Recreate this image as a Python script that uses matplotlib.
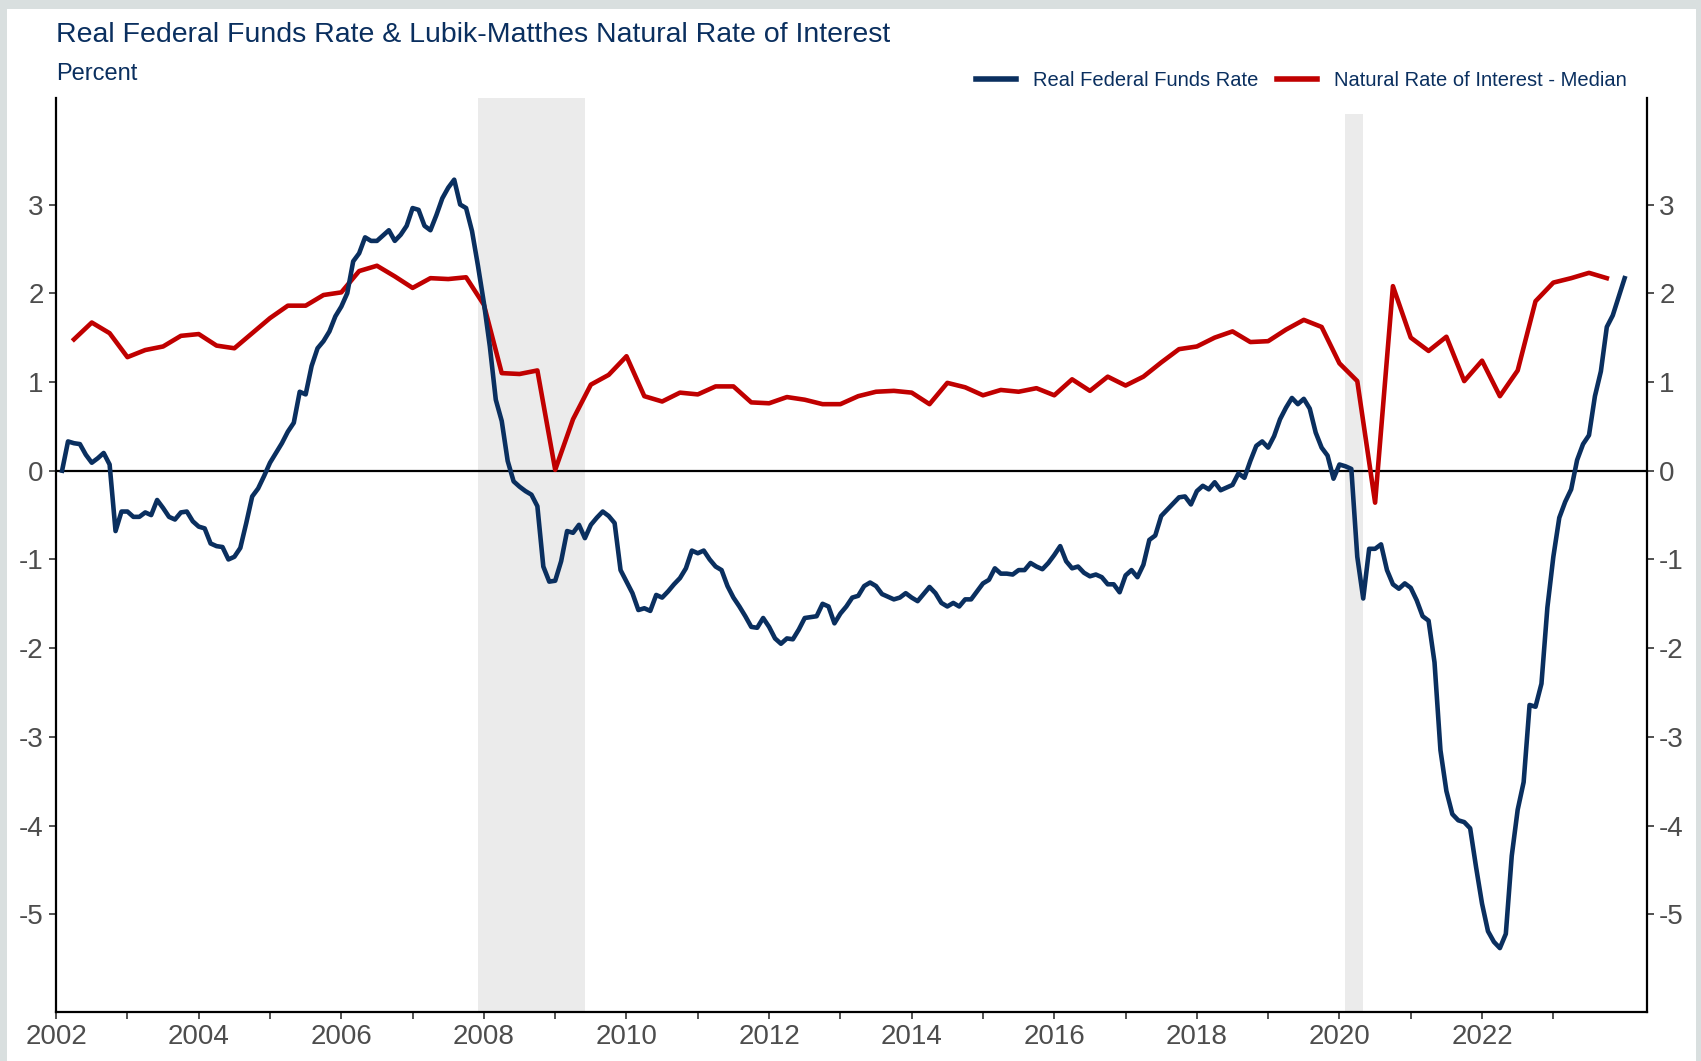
import matplotlib.pyplot as plt
from matplotlib.patches import Rectangle
import pandas as pd

plt.rcParams['font.family'] = ['Liberation Sans', 'DejaVu Sans']
plt.rcParams['axes.unicode_minus'] = False

NAVY = "#0a2f5f"
RED = "#c00000"
GREY_TXT = "#4d4d4d"

# Real federal funds rate, monthly, Feb 2002 - Jan 2024
real_ffr_dates = pd.date_range("2002-02-01", periods=264, freq="MS")
real_ffr = [
    0.00, 0.33, 0.31, 0.30, 0.18, 0.09, 0.14, 0.20, 0.07, -0.68, -0.46, -0.46,
    -0.52, -0.52, -0.47, -0.50, -0.33, -0.42, -0.52, -0.55, -0.47, -0.46, -0.57, -0.63,
    -0.65, -0.82, -0.85, -0.86, -1.00, -0.97, -0.87, -0.59, -0.29, -0.20, -0.06, 0.09,
    0.20, 0.31, 0.44, 0.54, 0.89, 0.86, 1.18, 1.38, 1.46, 1.57, 1.74, 1.85,
    2.00, 2.36, 2.45, 2.63, 2.59, 2.59, 2.65, 2.71, 2.59, 2.66, 2.76, 2.96,
    2.94, 2.76, 2.71, 2.88, 3.07, 3.19, 3.28, 3.00, 2.96, 2.70, 2.31, 1.89,
    1.40, 0.80, 0.56, 0.11, -0.12, -0.18, -0.23, -0.27, -0.40, -1.08, -1.25, -1.24,
    -1.02, -0.68, -0.70, -0.61, -0.76, -0.61, -0.53, -0.46, -0.51, -0.59, -1.12, -1.25,
    -1.38, -1.57, -1.55, -1.58, -1.40, -1.43, -1.36, -1.28, -1.21, -1.10, -0.90, -0.93,
    -0.90, -1.00, -1.08, -1.12, -1.30, -1.43, -1.53, -1.64, -1.76, -1.77, -1.66, -1.76,
    -1.89, -1.95, -1.89, -1.90, -1.79, -1.66, -1.65, -1.64, -1.50, -1.53, -1.72, -1.61,
    -1.53, -1.43, -1.41, -1.30, -1.26, -1.30, -1.39, -1.42, -1.45, -1.43, -1.38, -1.43,
    -1.47, -1.39, -1.31, -1.38, -1.49, -1.53, -1.49, -1.53, -1.45, -1.45, -1.36, -1.27,
    -1.23, -1.10, -1.16, -1.16, -1.17, -1.12, -1.12, -1.04, -1.08, -1.11, -1.04, -0.95,
    -0.85, -1.02, -1.10, -1.08, -1.15, -1.19, -1.17, -1.20, -1.28, -1.28, -1.37, -1.18,
    -1.12, -1.20, -1.06, -0.78, -0.73, -0.51, -0.44, -0.37, -0.30, -0.29, -0.38, -0.23,
    -0.17, -0.21, -0.13, -0.22, -0.19, -0.16, -0.03, -0.08, 0.11, 0.28, 0.33, 0.26,
    0.39, 0.58, 0.71, 0.82, 0.75, 0.81, 0.70, 0.43, 0.26, 0.17, -0.09, 0.07,
    0.05, 0.02, -0.97, -1.44, -0.88, -0.88, -0.83, -1.12, -1.28, -1.33, -1.27, -1.32,
    -1.46, -1.64, -1.69, -2.16, -3.15, -3.61, -3.87, -3.94, -3.96, -4.03, -4.47, -4.88,
    -5.19, -5.31, -5.38, -5.22, -4.34, -3.82, -3.51, -2.64, -2.66, -2.40, -1.54, -0.97,
    -0.53, -0.35, -0.21, 0.12, 0.30, 0.40, 0.84, 1.12, 1.62, 1.75, 1.96, 2.17,
]

# Lubik-Matthes natural rate (median), quarterly, 2002Q2 - 2023Q4
nat_rate_dates = pd.date_range("2002-04-01", periods=87, freq="QS")
nat_rate = [
    1.48, 1.67, 1.55, 1.28, 1.36, 1.40, 1.52, 1.54, 1.41, 1.38, 1.55, 1.72,
    1.86, 1.86, 1.98, 2.01, 2.25, 2.31, 2.19, 2.06, 2.17, 2.16, 2.18, 1.87,
    1.10, 1.09, 1.13, 0.01, 0.58, 0.97, 1.08, 1.29, 0.84, 0.78, 0.88, 0.86,
    0.95, 0.95, 0.77, 0.76, 0.83, 0.80, 0.75, 0.75, 0.84, 0.89, 0.90, 0.88,
    0.75, 0.99, 0.94, 0.85, 0.91, 0.89, 0.93, 0.85, 1.03, 0.90, 1.06, 0.96,
    1.06, 1.22, 1.37, 1.40, 1.50, 1.57, 1.45, 1.46, 1.59, 1.70, 1.62, 1.21,
    1.01, -0.36, 2.08, 1.50, 1.35, 1.51, 1.01, 1.24, 0.84, 1.13, 1.91, 2.12,
    2.17, 2.23, 2.17,
]

# NBER recessions (start, end, top of shading in axes fraction)
recessions = [(2007 + 11 / 12, 2009 + 5 / 12, 1.0), (2020 + 1 / 12, 2020 + 4 / 12, 0.983)]


def to_year(dates):
    return dates.year + (dates.month - 1) / 12


fig = plt.figure(figsize=(17.01, 10.61), dpi=100, facecolor="#d9dfdf")
fig.patches.append(Rectangle((7 / 1701, 0), 1689 / 1701, 1 - 9 / 1061,
                             transform=fig.transFigure, facecolor="white",
                             edgecolor="none", zorder=-10))

ax = fig.add_axes([0.0330, 0.0462, 0.9351, 0.8614])
ax.set_facecolor("white")

for start, end, top in recessions:
    ax.axvspan(start, end, ymin=0, ymax=top, color="#ebebeb", lw=0, zorder=0)

ax.axhline(0, color="black", lw=1.6, zorder=1)

ax.plot(to_year(real_ffr_dates), real_ffr, color=NAVY, lw=3.3,
        label="Real Federal Funds Rate", zorder=3, solid_joinstyle="round")
ax.plot(to_year(nat_rate_dates), nat_rate, color=RED, lw=3.3,
        label="Natural Rate of Interest - Median", zorder=2, solid_joinstyle="round")

ax.set_xlim(2002, 2024.31)
ax.set_ylim(-6.10, 4.20)

years = list(range(2002, 2024))
ax.set_xticks(years)
ax.set_xticklabels([str(y) if y % 2 == 0 else "" for y in years])
ax.set_yticks(range(-5, 4))
ax.set_yticklabels([str(v) for v in range(-5, 4)])

ax.tick_params(axis="both", direction="out", length=5, width=1.2,
               color="#333333", labelsize=20, labelcolor=GREY_TXT, pad=4)
ax.tick_params(axis="y", right=True, labelright=True)

ax.spines["top"].set_visible(False)
for side in ["left", "right", "bottom"]:
    ax.spines[side].set_linewidth(1.6)
    ax.spines[side].set_color("black")

fig.text(56 / 1701, 1 - 42 / 1061,
         "Real Federal Funds Rate & Lubik-Matthes Natural Rate of Interest",
         fontsize=20.5, color=NAVY, ha="left", va="baseline")
fig.text(56 / 1701, 1 - 79.5 / 1061, "Percent",
         fontsize=17, color=NAVY, ha="left", va="baseline")

leg = ax.legend(loc="center right", bbox_to_anchor=(1627 / 1701, 1 - 81 / 1061),
                bbox_transform=fig.transFigure, ncol=2, frameon=False,
                fontsize=14.5, handlelength=2.0, handletextpad=0.85,
                columnspacing=0.9, borderpad=0, borderaxespad=0)
for text in leg.get_texts():
    text.set_color(NAVY)
for line in leg.get_lines():
    line.set_linewidth(4.0)

fig.savefig("out.png", dpi=100, facecolor=fig.get_facecolor())
